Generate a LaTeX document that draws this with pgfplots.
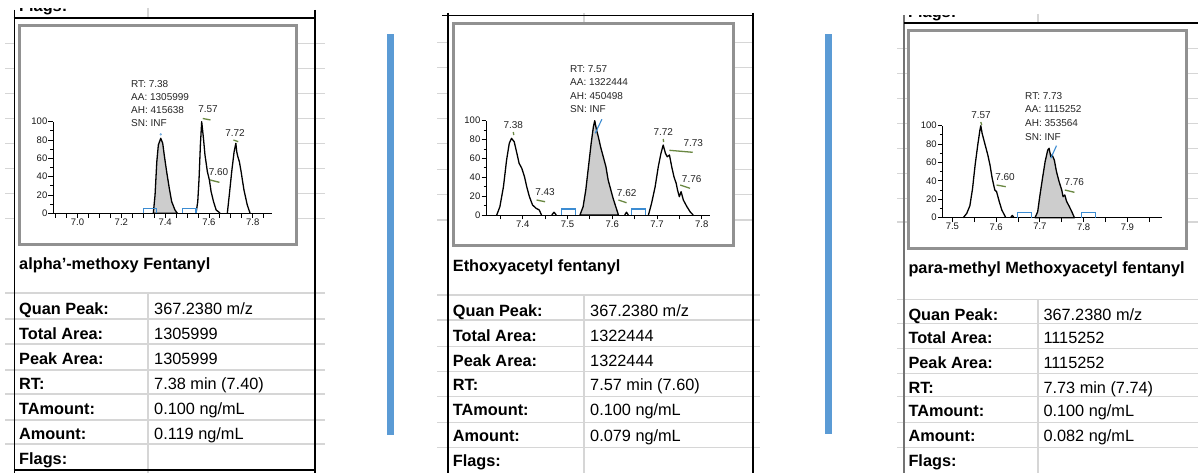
\documentclass[border=0pt]{standalone}
\usepackage{fontspec}
\setmainfont{Liberation Sans}
\usepackage{pgfplots}
\pgfplotsset{compat=1.18}
\definecolor{gridgray}{RGB}{214,214,214}
\definecolor{boxgray}{RGB}{145,145,145}
\definecolor{sepblue}{RGB}{91,155,213}
\definecolor{brkblue}{RGB}{60,140,210}
\definecolor{pkolive}{RGB}{105,135,65}
\definecolor{peakfill}{RGB}{205,205,205}
\newcommand\tf{\fontsize{16.3}{18}\selectfont}
\newcommand\annot{\fontsize{10}{11}\selectfont}
\tikzset{trace/.style={black, line width=1.3pt, line join=round},
         pkfill/.style={fill=peakfill, draw=black, line width=1.3pt, line join=round},
         brk/.style={brkblue, line width=1.1pt},
         gdash/.style={pkolive, line width=1.3pt},
         grid line/.style={gridgray, line width=1.5pt},
         outer/.style={black, line width=1.3pt}}
\pgfplotsset{chrom/.style={
  scale only axis, axis lines=left,
  axis line style={-, line width=0.9pt, black},
  ymin=0, ymax=100, ytick={0,20,40,60,80,100}, minor ytick={10,30,50,70,90},
  tick style={black, line width=0.8pt}, major tick length=4.5pt, minor tick length=2.5pt,
  tick align=outside,
  ticklabel style={font=\fontsize{9.5}{10}\selectfont, inner sep=1pt, text=black!90},
  /pgf/number format/assume math mode=true,
  clip=false, anchor=south west}}
\begin{document}
\begin{tikzpicture}
\useasboundingbox (0,0) rectangle (1198pt,-473pt);
\clip (0,0) rectangle (1198pt,-473pt);
\begin{scope}[x=1pt,y=-1pt]
% ---------- background grid ----------
\foreach \y in {43.3,68.3,93.3,118.3,143.3,168.3,193.3,218.3}
  {\draw[grid line] (5,\y)--(14,\y) (296,\y)--(325,\y);}
\foreach \y in {293,319,344,370,394,420,444}
  {\draw[grid line] (5,\y)--(325,\y);}
\foreach \y in {42.7,67.7,93.3,118.3,143.3,169.3,194.3,220}
  {\draw[grid line] (437,\y)--(448,\y) (733,\y)--(753,\y);}
\foreach \y in {295,320,346.7,371.7,396.7,422.7,447.3}
  {\draw[grid line] (437,\y)--(760,\y);}
\foreach \y in {48.3,73.3,98.3,123.3,148.3,173.3,198.3,222}
  {\draw[grid line] (897,\y)--(908,\y) (1186,\y)--(1198,\y);}
\foreach \y in {299.3,323.3,348.3,373.3,396.7,422.7,447.3}
  {\draw[grid line] (897,\y)--(1198,\y);}
% column dividers
\draw[grid line] (148,8)--(148,18) (148,293)--(148,473);
\draw[grid line] (584,13)--(584,24) (584,295)--(584,473);
\draw[grid line] (1038,14)--(1038,23) (1038,299.3)--(1038,473);
% ---------- outer frames ----------
\draw[outer] (14.5,10)--(14.5,473) (315,10)--(315,473);
\draw[outer] (13.5,18)--(316,18) (13.5,470)--(316,470);
\draw[outer] (448,13)--(448,473) (753,13)--(753,473);
\draw[outer] (442,15.5)--(754,15.5);
\draw[black!55, line width=1.3pt] (904,15)--(904,473);
\draw[outer] (904,23)--(1198,23);
% ---------- chart boxes ----------
\draw[boxgray, line width=3pt, fill=white] (19,26) rectangle (296,244);
\draw[boxgray, line width=3pt, fill=white] (453,24) rectangle (733,245.5);
\draw[boxgray, line width=3pt, fill=white] (908,30.5) rectangle (1186,248);
% ---------- separators ----------
\fill[sepblue] (387,34) rectangle (394,435);
\fill[sepblue] (825,34) rectangle (832,434);
% ---------- Flags remnants ----------
\begin{scope}
\clip (14,8.5) rectangle (148,17);
\node[anchor=base west, inner sep=0, font=\tf\bfseries] at (19,12) {Flags:};
\end{scope}
\begin{scope}
\clip (904,15.3) rectangle (1038,22);
\node[anchor=base west, inner sep=0, font=\tf\bfseries] at (908,17.8) {Flags:};
\end{scope}
\end{scope}

% ================= Panel 1 =================
\begin{axis}[chrom, at={(53pt,-213.3pt)}, width=219pt, height=91.6pt,
  xmin=6.888, xmax=7.888,
  xtick={6.9,6.95,7,7.05,7.1,7.15,7.2,7.25,7.3,7.35,7.4,7.45,7.5,7.55,7.6,7.65,7.7,7.75,7.8,7.85},
  xticklabels={,,7.0,,,,7.2,,,,7.4,,,,7.6,,,,7.8,}]
\addplot[pkfill] coordinates {(7.346,0)(7.354,20)(7.362,56.3)(7.369,74.6)(7.380,81.9)(7.389,76.4)(7.396,63.6)(7.407,45.4)(7.419,27.3)(7.430,12.7)(7.445,3.6)(7.456,0)} \closedcycle;
\addplot[trace] coordinates {(7.541,0)(7.549,12.7)(7.555,38.2)(7.561,74.6)(7.567,100)(7.575,81.9)(7.582,63.6)(7.593,45.4)(7.602,36.4)(7.610,23.6)(7.621,12.7)(7.633,3.6)(7.643,1.8)(7.651,0)};
\addplot[trace] coordinates {(7.684,0)(7.693,20)(7.704,45.4)(7.715,67.2)(7.723,76.4)(7.727,67.2)(7.732,61.8)(7.739,56.3)(7.747,45.4)(7.754,34.5)(7.760,25.4)(7.765,20)(7.775,9.1)(7.788,0)};
\addplot[brk] coordinates {(7.301,0)(7.301,5.5)(7.359,5.5)(7.359,0)};
\addplot[brk] coordinates {(7.480,0)(7.480,5.5)(7.541,5.5)(7.541,0)};
\addplot[gdash] coordinates {(7.572,103.5)(7.607,101.9)};
\addplot[gdash] coordinates {(7.712,80.0)(7.734,78.2)};
\addplot[gdash] coordinates {(7.605,36.4)(7.648,33.8)};
\addplot[only marks, mark=*, mark size=0.9pt, brkblue!70] coordinates {(7.380,86.2)};
\end{axis}

% ================= Panel 2 =================
\begin{axis}[chrom, at={(486pt,-215pt)}, width=224pt, height=94.3pt,
  xmin=7.318, xmax=7.8186,
  xtick={7.35,7.4,7.45,7.5,7.55,7.6,7.65,7.7,7.75,7.8},
  xticklabels={,7.4,,7.5,,7.6,,7.7,,7.8}]
\addplot[trace] coordinates {(7.342,0)(7.349,8.8)(7.357,30)(7.364,58.3)(7.370,76)(7.375,81.3)(7.381,77.7)(7.387,65.4)(7.392,54.8)(7.398,49.5)(7.404,40.6)(7.409,30)(7.415,19.4)(7.422,10.6)(7.430,7.1)(7.437,5.3)(7.442,0)};
\addplot[trace] coordinates {(7.465,0)(7.470,3)(7.475,0)};
\addplot[pkfill] coordinates {(7.528,0)(7.535,8.8)(7.541,26.5)(7.547,51.2)(7.553,76)(7.558,93.6)(7.561,100)(7.565,90.1)(7.569,83)(7.574,72.4)(7.580,61.8)(7.586,51.2)(7.591,37.1)(7.597,26.5)(7.602,17.7)(7.608,8.8)(7.614,0)} \closedcycle;
\addplot[trace] coordinates {(7.628,0)(7.632,3)(7.636,0)};
\addplot[trace] coordinates {(7.681,0)(7.688,12.4)(7.696,30)(7.703,51.2)(7.709,65.4)(7.714,74.2)(7.719,65.4)(7.723,61.8)(7.728,63.6)(7.733,51.2)(7.738,40.6)(7.743,33.6)(7.746,26.5)(7.750,19.4)(7.754,24.7)(7.759,15.9)(7.767,8.8)(7.774,3.5)(7.781,0)};
\addplot[brk] coordinates {(7.487,0)(7.487,6.4)(7.518,6.4)(7.518,0)};
\addplot[brk] coordinates {(7.644,0)(7.644,6.4)(7.675,6.4)(7.675,0)};
\addplot[gdash] coordinates {(7.379,88.0)(7.380,84.8)};
\addplot[gdash] coordinates {(7.431,15.9)(7.450,14.1)};
\addplot[gdash] coordinates {(7.614,15.9)(7.632,13.0)};
\addplot[gdash] coordinates {(7.714,80.6)(7.715,77.4)};
\addplot[gdash] coordinates {(7.728,68.6)(7.780,66.5)};
\addplot[gdash] coordinates {(7.752,31.8)(7.774,28.3)};
\addplot[brkblue, line width=1.1pt] coordinates {(7.562,86.6)(7.577,101.5)};
\end{axis}

% ================= Panel 3 =================
\begin{axis}[chrom, at={(942.3pt,-217.7pt)}, width=219.4pt, height=92pt,
  xmin=7.477, xmax=7.9785,
  xtick={7.5,7.55,7.6,7.65,7.7,7.75,7.8,7.85,7.9,7.95},
  xticklabels={7.5,,7.6,,7.7,,7.8,,7.9,}]
\addplot[trace] coordinates {(7.525,0)(7.533,4.8)(7.540,13)(7.546,31.2)(7.552,57.3)(7.558,79)(7.563,95.3)(7.565,100)(7.568,91.7)(7.575,79)(7.581,68.2)(7.586,57.3)(7.591,42.8)(7.597,30.1)(7.601,28.3)(7.607,17.8)(7.613,8.4)(7.619,2.9)(7.622,0)};
\addplot[trace] coordinates {(7.633,0)(7.637,2.5)(7.641,0)};
\addplot[pkfill] coordinates {(7.689,0)(7.695,6.5)(7.700,23.9)(7.706,42.8)(7.712,60.9)(7.718,73.6)(7.721,75.4)(7.725,66.3)(7.728,68.2)(7.733,62.7)(7.738,50)(7.744,39.1)(7.750,30.1)(7.753,22.8)(7.757,24.7)(7.761,17.8)(7.767,12.4)(7.773,6.5)(7.779,0)} \closedcycle;
\addplot[brk] coordinates {(7.649,0)(7.649,5.9)(7.680,5.9)(7.680,0)};
\addplot[brk] coordinates {(7.796,0)(7.796,5.9)(7.828,5.9)(7.828,0)};
\addplot[gdash] coordinates {(7.565,104)(7.567,100.8)};
\addplot[gdash] coordinates {(7.601,35.5)(7.622,33.7)};
\addplot[gdash] coordinates {(7.757,30.1)(7.779,27.6)};
\addplot[brkblue, line width=1.1pt] coordinates {(7.725,64.6)(7.738,78.3)};
\end{axis}

% ================= Texts =================
\begin{scope}[x=1pt,y=-1pt]
\tikzset{ann/.style={font=\annot, inner sep=0, text=black!85}}
% panel 1 annotations
\node[ann, anchor=west] at (131,84.5) {RT: 7.38};
\node[ann, anchor=west] at (131,97.5) {AA: 1305999};
\node[ann, anchor=west] at (131,110.5) {AH: 415638};
\node[ann, anchor=west] at (131,123.5) {SN: INF};
\node[ann] at (208,109.5) {7.57};
\node[ann] at (235,133) {7.72};
\node[ann] at (218.5,172.5) {7.60};
% panel 2 annotations
\node[ann, anchor=west] at (570,69) {RT: 7.57};
\node[ann, anchor=west] at (570,82.5) {AA: 1322444};
\node[ann, anchor=west] at (570,96) {AH: 450498};
\node[ann, anchor=west] at (570,109.5) {SN: INF};
\node[ann] at (513.3,125) {7.38};
\node[ann] at (545,191.7) {7.43};
\node[ann] at (626.7,193.3) {7.62};
\node[ann] at (663.3,132.3) {7.72};
\node[ann] at (693.3,143.3) {7.73};
\node[ann] at (691.7,179) {7.76};
% panel 3 annotations
\node[ann, anchor=west] at (1025,96) {RT: 7.73};
\node[ann, anchor=west] at (1025,109.5) {AA: 1115252};
\node[ann, anchor=west] at (1025,123) {AH: 353564};
\node[ann, anchor=west] at (1025,136.7) {SN: INF};
\node[ann] at (981,115) {7.57};
\node[ann] at (1005,176.7) {7.60};
\node[ann] at (1074.3,182.3) {7.76};
% ---------- tables ----------
\tikzset{lab/.style={anchor=base west, inner sep=0, font=\tf\bfseries},
         val/.style={anchor=base west, inner sep=0, font=\tf}}
% panel 1
\node[lab] at (19,269) {alpha\symbol{"0027}-methoxy Fentanyl};
\node[lab] at (19,314) {Quan Peak:};   \node[val] at (154,314) {367.2380 m/z};
\node[lab] at (19,339) {Total Area:};  \node[val] at (154,339) {1305999};
\node[lab] at (19,364) {Peak Area:};   \node[val] at (154,364) {1305999};
\node[lab] at (19,389) {RT:};          \node[val] at (154,389) {7.38 min (7.40)};
\node[lab] at (19,414) {TAmount:};     \node[val] at (154,414) {0.100 ng/mL};
\node[lab] at (19,439) {Amount:};      \node[val] at (154,439) {0.119 ng/mL};
\node[lab] at (19,464) {Flags:};
% panel 2
\node[lab] at (452.7,271.5) {Ethoxyacetyl fentanyl};
\node[lab] at (452.7,316.5) {Quan Peak:};  \node[val] at (590,316.5) {367.2380 m/z};
\node[lab] at (452.7,341) {Total Area:};   \node[val] at (590,341) {1322444};
\node[lab] at (452.7,366) {Peak Area:};    \node[val] at (590,366) {1322444};
\node[lab] at (452.7,390.5) {RT:};         \node[val] at (590,390.5) {7.57 min (7.60)};
\node[lab] at (452.7,415.5) {TAmount:};    \node[val] at (590,415.5) {0.100 ng/mL};
\node[lab] at (452.7,441) {Amount:};       \node[val] at (590,441) {0.079 ng/mL};
\node[lab] at (452.7,466.5) {Flags:};
% panel 3
\node[lab] at (908.3,273) {para-methyl Methoxyacetyl fentanyl};
\node[lab] at (908.3,320) {Quan Peak:};   \node[val] at (1043.3,320) {367.2380 m/z};
\node[lab] at (908.3,343.5) {Total Area:};\node[val] at (1043.3,343.5) {1115252};
\node[lab] at (908.3,368.5) {Peak Area:}; \node[val] at (1043.3,368.5) {1115252};
\node[lab] at (908.3,393) {RT:};          \node[val] at (1043.3,393) {7.73 min (7.74)};
\node[lab] at (908.3,416.5) {TAmount:};   \node[val] at (1043.3,416.5) {0.100 ng/mL};
\node[lab] at (908.3,441.5) {Amount:};    \node[val] at (1043.3,441.5) {0.082 ng/mL};
\node[lab] at (908.3,466.5) {Flags:};
\end{scope}
\end{tikzpicture}
\end{document}
